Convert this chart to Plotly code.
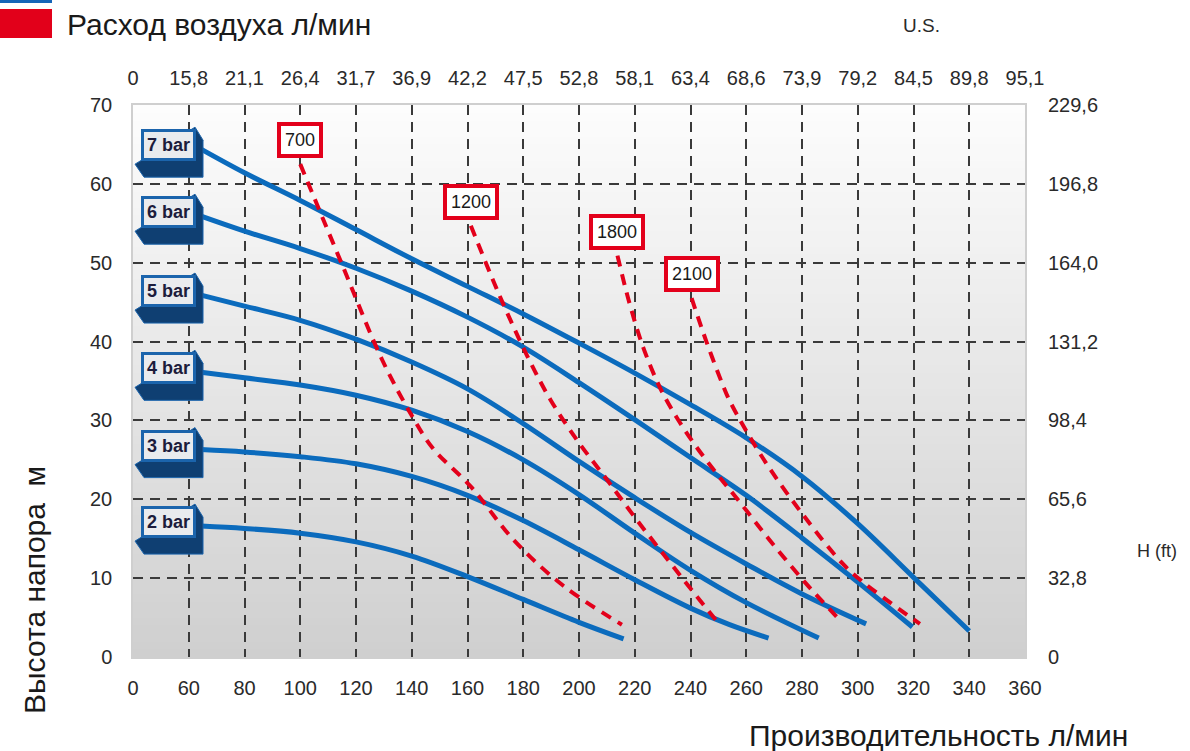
import plotly.graph_objects as go

# ---------------- data ----------------
flow_tick_labels = ["0", "60", "80", "100", "120", "140", "160", "180", "200",
                    "220", "240", "260", "280", "300", "320", "340", "360"]
gal_tick_labels = ["0", "15,8", "21,1", "26,4", "31,7", "36,9", "42,2", "47,5", "52,8",
                   "58,1", "63,4", "68,6", "73,9", "79,2", "84,5", "89,8", "95,1"]
head_tick_labels = ["0", "10", "20", "30", "40", "50", "60", "70"]
ft_tick_labels = ["0", "32,8", "65,6", "98,4", "131,2", "164,0", "196,8", "229,6"]

pressure_labels = ["7 bar", "6 bar", "5 bar", "4 bar", "3 bar", "2 bar"]
q_7bar = [64.4, 80, 100, 120, 140, 160, 180, 200, 220, 240, 260, 280, 300, 320, 340]
h_7bar = [64.4, 61.4, 57.9, 54.2, 50.5, 47.0, 43.5, 39.8, 36.0, 32.0, 27.8, 22.9, 16.9, 10.1, 3.3]
q_6bar = [64.4, 80, 100, 120, 140, 160, 180, 200, 220, 240, 260, 280, 300, 319.6]
h_6bar = [55.9, 54.0, 51.8, 49.3, 46.4, 43.1, 39.3, 34.8, 30.1, 25.3, 20.5, 15.1, 9.5, 3.8]
q_5bar = [64.4, 80, 100, 120, 140, 160, 180, 200, 220, 240, 260, 280, 303]
h_5bar = [45.9, 44.5, 42.7, 40.3, 37.4, 34.0, 29.6, 24.8, 20.2, 15.8, 11.8, 8.0, 4.2]
q_4bar = [64.4, 80, 100, 120, 140, 160, 180, 200, 220, 240, 260, 286]
h_4bar = [36.1, 35.4, 34.5, 33.2, 31.3, 28.6, 25.0, 20.6, 15.7, 11.0, 6.9, 2.4]
q_3bar = [64.4, 80, 100, 120, 140, 160, 180, 200, 220, 240, 254, 268]
h_3bar = [26.3, 26.0, 25.4, 24.5, 22.9, 20.5, 17.3, 13.6, 9.8, 6.2, 4.1, 2.4]
q_2bar = [64.4, 80, 100, 120, 140, 160, 180, 200, 216]
h_2bar = [16.6, 16.3, 15.7, 14.6, 12.8, 10.2, 7.3, 4.4, 2.3]

air_labels = ["700", "1200", "1800", "2100"]
q_air700 = [100, 115.2, 129.5, 140.2, 147.5, 161.2, 176.7, 194.5, 215.4]
h_air700 = [62.5, 49.6, 37.6, 30.5, 26.5, 21.6, 14.8, 9.0, 4.1]
q_air1200 = [161.2, 171.3, 181.4, 189.8, 199.3, 210, 220.7, 232.6, 242, 250.5]
h_air1200 = [54.7, 46.0, 38.2, 32.6, 27.5, 22.5, 17.4, 12.0, 7.8, 4.1]
q_air1800 = [213.8, 218, 223, 229, 235, 242, 250, 258, 268, 281, 293.5]
h_air1800 = [50.9, 45.0, 39.3, 34.2, 30.4, 26.7, 23.0, 19.5, 15.0, 9.5, 4.7]
q_air2100 = [240.4, 245.7, 251.7, 254.6, 266, 279.8, 294.7, 301.9, 322.3]
h_air2100 = [45.5, 40, 34.4, 32.1, 25.2, 18.3, 11.8, 9.5, 4.2]

legend_pressure = "Давление воздуха (бар)"
legend_air = "Расход воздуха л/мин"
x_title = "Производительность л/мин"
y_title = "Высота напора  м"
top_unit = "U.S."
right_unit = "H (ft)"

# ---------------- figure ----------------
FONT = "Liberation Sans, Arial, sans-serif"
BLUE = "#0b6bbd"
NAVY = "#0f3f72"
RED = "#e3001b"
TXT = "#2a2a2a"

flow_vals = list(range(40, 361, 20))
head_vals = list(range(0, 71, 10))

fig = go.Figure()

pump_curves = [(q_7bar, h_7bar), (q_6bar, h_6bar), (q_5bar, h_5bar),
               (q_4bar, h_4bar), (q_3bar, h_3bar), (q_2bar, h_2bar)]
air_curves = [(q_air700, h_air700), (q_air1200, h_air1200),
              (q_air1800, h_air1800), (q_air2100, h_air2100)]

for name, (q, h) in zip(pressure_labels, pump_curves):
    fig.add_trace(go.Scatter(x=q, y=h, mode="lines", name=name, showlegend=False,
                             line=dict(color=BLUE, width=5, shape="spline", smoothing=1.0)))
for name, (q, h) in zip(air_labels, air_curves):
    fig.add_trace(go.Scatter(x=q, y=h, mode="lines", name=name, showlegend=False,
                             line=dict(color=RED, width=4, dash="11px,8px",
                                       shape="spline", smoothing=1.0)))

# helper traces so the secondary axes exist
fig.add_trace(go.Scatter(x=[None], y=[None], xaxis="x2", yaxis="y", showlegend=False, hoverinfo="skip"))
fig.add_trace(go.Scatter(x=[None], y=[None], xaxis="x", yaxis="y2", showlegend=False, hoverinfo="skip"))
fig.add_trace(go.Scatter(x=[None], y=[None], xaxis="x3", yaxis="y3", showlegend=False, hoverinfo="skip"))

shapes = []
# gradient background of the plot area
N = 70
for i in range(N):
    t0, t1 = i / N, (i + 1) / N
    tm = (t0 + t1) / 2
    g = int(round(207 + (253 - 207) * tm))
    shapes.append(dict(type="rect", xref="x domain", yref="y domain", x0=0, x1=1,
                       y0=t0, y1=t1 + 0.002, line=dict(width=0),
                       fillcolor=f"rgb({g},{g},{g})", layer="below"))

annotations = []
# pressure labels (3D boxes) anchored at the start of each curve
for name, (q, h) in zip(pressure_labels, pump_curves):
    shapes.append(dict(type="path", xref="x", yref="y", xsizemode="pixel", ysizemode="pixel",
                       xanchor=q[0], yanchor=h[0],
                       path="M -66,-15 L -57,-28 L 2,-28 L 2,9 L -6,22 Z",
                       fillcolor=NAVY, line=dict(color="#1b64ac", width=1), layer="above"))
    annotations.append(dict(x=q[0], y=h[0], xref="x", yref="y", text=f"<b>{name}</b>",
                            showarrow=False, xanchor="right", yanchor="middle",
                            xshift=-5, yshift=4,
                            font=dict(family=FONT, size=18, color="#1c1c3c"),
                            bgcolor="#e9ebee", bordercolor="#1b64ac", borderwidth=3, borderpad=3))

# air consumption labels at the top of each dashed curve
for name, (q, h) in zip(air_labels, air_curves):
    annotations.append(dict(x=q[0], y=h[0], xref="x", yref="y", text=name,
                            showarrow=False, xanchor="center", yanchor="bottom", yshift=6,
                            font=dict(family=FONT, size=18, color="#1a1a1a"),
                            bgcolor="white", bordercolor=RED, borderwidth=4, borderpad=4))

# legend-like header (top left)
shapes.append(dict(type="rect", xref="paper", yref="paper", x0=-0.1491, x1=-0.0908,
                   y0=1.1848, y1=1.24, fillcolor="#1565b8", line=dict(width=0)))
shapes.append(dict(type="rect", xref="paper", yref="paper", x0=-0.1491, x1=-0.0908,
                   y0=1.1214, y1=1.1739, fillcolor="#e2001a", line=dict(width=0)))
annotations.append(dict(x=-0.0762, y=1.2290, xref="paper", yref="paper", text=legend_pressure,
                        showarrow=False, xanchor="left", yanchor="middle",
                        font=dict(family=FONT, size=30, color="#1a1a1a")))
annotations.append(dict(x=-0.0762, y=1.1467, xref="paper", yref="paper", text=legend_air,
                        showarrow=False, xanchor="left", yanchor="middle",
                        font=dict(family=FONT, size=30, color="#1a1a1a")))

annotations.append(dict(x=0.8845, y=1.1449, xref="paper", yref="paper", text=top_unit,
                        showarrow=False, xanchor="center", yanchor="middle",
                        font=dict(family=FONT, size=19, color=TXT)))
annotations.append(dict(x=1.1480, y=0.192, xref="paper", yref="paper", text=right_unit,
                        showarrow=False, xanchor="center", yanchor="middle",
                        font=dict(family=FONT, size=18, color=TXT)))
annotations.append(dict(x=-0.1099, y=0.1214, xref="paper", yref="paper", text=y_title,
                        showarrow=False, textangle=-90, xanchor="center", yanchor="middle",
                        font=dict(family=FONT, size=30, color="#1a1a1a")))
annotations.append(dict(x=0.9025, y=-0.1430, xref="paper", yref="paper", text=x_title,
                        showarrow=False, xanchor="center", yanchor="middle",
                        font=dict(family=FONT, size=30, color="#1a1a1a")))

tickfont = dict(family=FONT, size=20, color=TXT)
GRID = dict(showgrid=True, gridcolor="#3a3a3a", gridwidth=1.5, griddash="10px,7px",
            showticklabels=False, ticks="", showline=False, zeroline=False)

fig.update_layout(
    width=1190, height=751,
    margin=dict(l=133, r=165, t=105, b=94, autoexpand=False),
    paper_bgcolor="white", plot_bgcolor="white",
    font=dict(family=FONT, color=TXT),
    showlegend=False,
    xaxis=dict(range=[40, 360], tickmode="array", tickvals=flow_vals, ticktext=flow_tick_labels,
               showgrid=False, zeroline=False, showline=True, mirror=True, linecolor="#cfcfcf",
               linewidth=1.5, ticks="", tickfont=tickfont, ticklabelstandoff=12, automargin=False),
    yaxis=dict(range=[0, 70], tickmode="array", tickvals=head_vals, ticktext=head_tick_labels,
               showgrid=False, zeroline=False, showline=True, mirror=True, linecolor="#cfcfcf",
               linewidth=1.5, ticks="", tickfont=tickfont, ticklabelstandoff=15, automargin=False),
    xaxis2=dict(range=[40, 360], overlaying="x", side="top", anchor="y", tickmode="array",
                tickvals=flow_vals, ticktext=gal_tick_labels, showgrid=False, zeroline=False,
                ticks="", tickfont=tickfont, ticklabelstandoff=15, automargin=False),
    yaxis2=dict(range=[0, 70], overlaying="y", side="right", anchor="x", tickmode="array",
                tickvals=head_vals, ticktext=ft_tick_labels, showgrid=False, zeroline=False,
                ticks="", tickfont=tickfont, ticklabelstandoff=22, automargin=False),
    xaxis3=dict(range=[40, 360], overlaying="x", anchor="y", tickmode="array",
                tickvals=flow_vals[1:-1], automargin=False, **GRID),
    yaxis3=dict(range=[0, 70], overlaying="y", anchor="x", tickmode="array",
                tickvals=head_vals[1:-1], automargin=False, **GRID),
    shapes=shapes,
    annotations=annotations,
)

fig.write_html("out.html", config={"displayModeBar": False},
               post_script="document.body.style.margin='0px';document.body.style.padding='0px';")
